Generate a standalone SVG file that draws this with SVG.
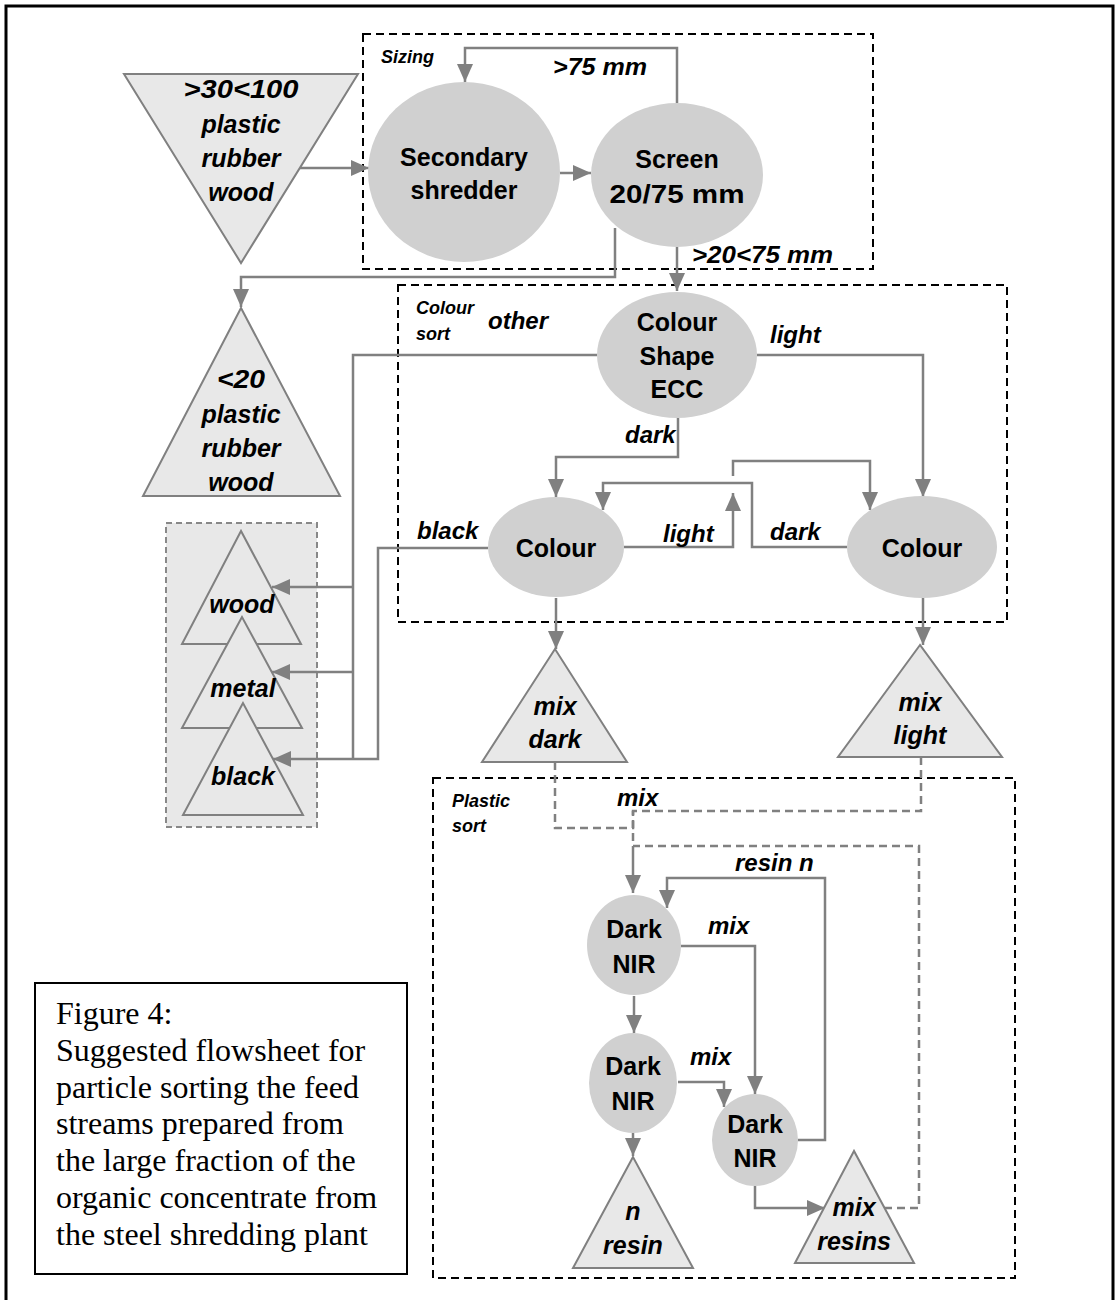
<svg xmlns="http://www.w3.org/2000/svg" width="1118" height="1300" viewBox="0 0 1118 1300">
<style>
.ell{fill:#d0d0d0;stroke:none}
.tri{fill:#e8e8e8;stroke:#808080;stroke-width:2}
.grp{fill:none;stroke:#000;stroke-width:2;stroke-dasharray:8 5}
.c{fill:none;stroke:#808080;stroke-width:2.5}
.cd{fill:none;stroke:#808080;stroke-width:2.5;stroke-dasharray:8 5}
.nb{font-family:"Liberation Sans",Arial,sans-serif;font-weight:bold;font-size:25px;text-anchor:middle;fill:#000}
.ni{font-family:"Liberation Sans",Arial,sans-serif;font-weight:bold;font-style:italic;font-size:25px;text-anchor:middle;fill:#000}
.el{font-family:"Liberation Sans",Arial,sans-serif;font-weight:bold;font-style:italic;font-size:24px;fill:#000}
.gl{font-family:"Liberation Sans",Arial,sans-serif;font-weight:bold;font-style:italic;font-size:18px;fill:#000}
.cap{font-family:"Liberation Serif","Times New Roman",serif;font-size:32px;fill:#000}
</style>
<defs>
<marker id="ah" markerUnits="userSpaceOnUse" markerWidth="18" markerHeight="16" refX="18" refY="8" orient="auto">
<path d="M0,0 L18,8 L0,16 z" fill="#808080"/>
</marker>
</defs>
<rect x="0" y="0" width="1118" height="1300" fill="#fff"/>
<rect x="6" y="6" width="1107" height="1310" fill="none" stroke="#000" stroke-width="3"/>

<g id="groups">
<rect class="grp" x="363" y="34" width="510" height="235"/>
<text class="gl" x="381" y="63">Sizing</text>
<rect class="grp" x="398" y="285" width="609" height="337"/>
<text class="gl" x="416" y="314">Colour</text>
<text class="gl" x="416" y="340">sort</text>
<rect class="grp" x="433" y="778" width="582" height="500"/>
<text class="gl" x="452" y="807">Plastic</text>
<text class="gl" x="452" y="832">sort</text>
<rect x="166" y="523" width="151" height="304" fill="#e8e8e8" stroke="#888" stroke-width="2" stroke-dasharray="6 4"/>
</g>

<g id="connectors">
<path class="c" d="M300,168 H369" marker-end="url(#ah)"/>
<path class="c" d="M560,173 H591" marker-end="url(#ah)"/>
<path class="c" d="M677,103 V48 H465 V82" marker-end="url(#ah)"/>
<path class="c" d="M677,247 V291" marker-end="url(#ah)"/>
<path class="c" d="M615,228 V277 H241 V307" marker-end="url(#ah)"/>
<path class="c" d="M597,355 H353 V759"/>
<path class="c" d="M353,587 H272" marker-end="url(#ah)"/>
<path class="c" d="M353,672 H272" marker-end="url(#ah)"/>
<path class="c" d="M488,548 H378 V759 H273" marker-end="url(#ah)"/>
<path class="c" d="M757,355 H923 V497" marker-end="url(#ah)"/>
<path class="c" d="M678,418 V457 H556 V497" marker-end="url(#ah)"/>
<path class="c" d="M624,547 H733 V493" marker-end="url(#ah)"/>
<path class="c" d="M733,476 V461 H870 V510" marker-end="url(#ah)"/>
<path class="c" d="M847,547 H752 V483 H603 V510" marker-end="url(#ah)"/>
<path class="c" d="M556,598 V649" marker-end="url(#ah)"/>
<path class="c" d="M923,598 V645" marker-end="url(#ah)"/>
<path class="cd" d="M555,762 V828 H633 V811"/>
<path class="cd" d="M921,757 V811 H633 V846"/>
<path class="cd" d="M884,1208 H919 V846 H633"/>
<path class="c" d="M633,846 V893" marker-end="url(#ah)"/>
<path class="c" d="M634,996 V1033" marker-end="url(#ah)"/>
<path class="c" d="M681,946 H755 V1094" marker-end="url(#ah)"/>
<path class="c" d="M678,1082 H724 V1107" marker-end="url(#ah)"/>
<path class="c" d="M798,1140 H825 V878 H667 V908" marker-end="url(#ah)"/>
<path class="c" d="M633,1132 V1156" marker-end="url(#ah)"/>
<path class="c" d="M755,1186 V1208 H825" marker-end="url(#ah)"/>
<text class="el" x="553" y="75" textLength="94" lengthAdjust="spacingAndGlyphs">&gt;75 mm</text>
<text class="el" x="692" y="263" textLength="141" lengthAdjust="spacingAndGlyphs">&gt;20&lt;75 mm</text>
<text class="el" x="488" y="329">other</text>
<text class="el" x="770" y="343">light</text>
<text class="el" x="625" y="443">dark</text>
<text class="el" x="417" y="539">black</text>
<text class="el" x="663" y="542">light</text>
<text class="el" x="770" y="540">dark</text>
<text class="el" x="617" y="806">mix</text>
<text class="el" x="735" y="871">resin n</text>
<text class="el" x="708" y="934">mix</text>
<text class="el" x="690" y="1065">mix</text>
</g>

<g id="n-input">
<polygon class="tri" points="124,74 358,74 241,263"/>
<text class="ni" x="241" y="98" textLength="115" lengthAdjust="spacingAndGlyphs">&gt;30&lt;100</text>
<text class="ni" x="241" y="133">plastic</text>
<text class="ni" x="241" y="167">rubber</text>
<text class="ni" x="241" y="201">wood</text>
</g>
<g id="n-shredder">
<ellipse class="ell" cx="464" cy="172" rx="96" ry="90"/>
<text class="nb" x="464" y="166">Secondary</text>
<text class="nb" x="464" y="199">shredder</text>
</g>
<g id="n-screen">
<ellipse class="ell" cx="677" cy="175" rx="86" ry="72"/>
<text class="nb" x="677" y="168">Screen</text>
<text class="nb" x="677" y="203" textLength="135" lengthAdjust="spacingAndGlyphs">20/75 mm</text>
</g>
<g id="n-fines">
<polygon class="tri" points="241,308 143,496 340,496"/>
<text class="ni" x="241" y="388" textLength="48" lengthAdjust="spacingAndGlyphs">&lt;20</text>
<text class="ni" x="241" y="423">plastic</text>
<text class="ni" x="241" y="457">rubber</text>
<text class="ni" x="241" y="491">wood</text>
</g>
<g id="n-ecc">
<ellipse class="ell" cx="677" cy="355" rx="80" ry="63"/>
<text class="nb" x="677" y="331">Colour</text>
<text class="nb" x="677" y="365">Shape</text>
<text class="nb" x="677" y="398">ECC</text>
</g>
<g id="n-colour-left">
<ellipse class="ell" cx="556" cy="547" rx="68" ry="50"/>
<text class="nb" x="556" y="557">Colour</text>
</g>
<g id="n-colour-right">
<ellipse class="ell" cx="922" cy="547" rx="75" ry="51"/>
<text class="nb" x="922" y="557">Colour</text>
</g>
<g id="n-wood">
<polygon class="tri" points="241,531 182,644 301,644"/>
<text class="ni" x="242" y="613">wood</text>
</g>
<g id="n-metal">
<polygon class="tri" points="242,617 182,728 302,728"/>
<text class="ni" x="243" y="697">metal</text>
</g>
<g id="n-black">
<polygon class="tri" points="243,703 183,815 303,815"/>
<text class="ni" x="243" y="785">black</text>
</g>
<g id="n-mixdark">
<polygon class="tri" points="555,649 482,762 627,762"/>
<text class="ni" x="555" y="715">mix</text>
<text class="ni" x="555" y="748">dark</text>
</g>
<g id="n-mixlight">
<polygon class="tri" points="920,645 838,757 1002,757"/>
<text class="ni" x="920" y="711">mix</text>
<text class="ni" x="920" y="744">light</text>
</g>
<g id="n-nir1">
<ellipse class="ell" cx="634" cy="945" rx="47" ry="50"/>
<text class="nb" x="634" y="938">Dark</text>
<text class="nb" x="634" y="973">NIR</text>
</g>
<g id="n-nir2">
<ellipse class="ell" cx="633" cy="1083" rx="44" ry="50"/>
<text class="nb" x="633" y="1075">Dark</text>
<text class="nb" x="633" y="1110">NIR</text>
</g>
<g id="n-nir3">
<ellipse class="ell" cx="755" cy="1140" rx="43" ry="46"/>
<text class="nb" x="755" y="1133">Dark</text>
<text class="nb" x="755" y="1167">NIR</text>
</g>
<g id="n-nresin">
<polygon class="tri" points="633,1157 573,1268 693,1268"/>
<text class="ni" x="633" y="1220">n</text>
<text class="ni" x="633" y="1254">resin</text>
</g>
<g id="n-mixresins">
<polygon class="tri" points="854,1151 795,1263 914,1263"/>
<text class="ni" x="854" y="1216">mix</text>
<text class="ni" x="854" y="1250">resins</text>
</g>
<g id="caption">
<rect x="35" y="983" width="372" height="291" fill="#fff" stroke="#000" stroke-width="2"/>
<text class="cap" x="56" y="1024">Figure 4:</text>
<text class="cap" x="56" y="1061">Suggested flowsheet for</text>
<text class="cap" x="56" y="1098">particle sorting the feed</text>
<text class="cap" x="56" y="1134">streams prepared from</text>
<text class="cap" x="56" y="1171">the large fraction of the</text>
<text class="cap" x="56" y="1208">organic concentrate from</text>
<text class="cap" x="56" y="1245">the steel shredding plant</text>
</g>
</svg>
